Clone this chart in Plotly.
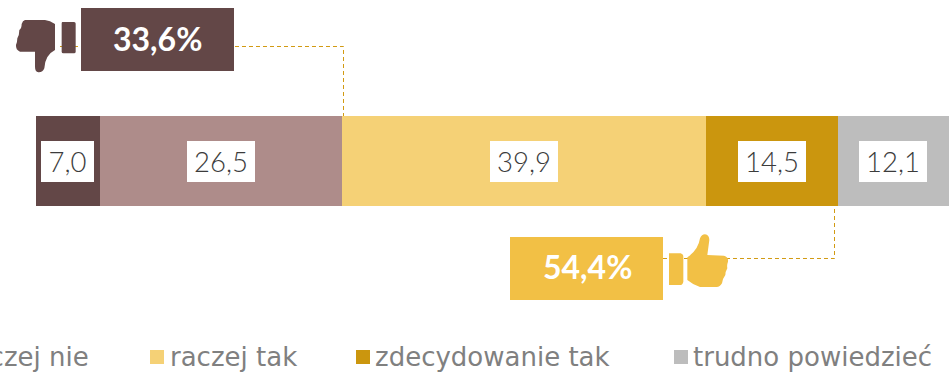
import plotly.graph_objects as go
W, H = 951, 372
categories = ["zdecydowanie nie", "raczej nie", "raczej tak", "zdecydowanie tak", "trudno powiedzieć"]
values = [7.0, 26.5, 39.9, 14.5, 12.1]
labels = ["7,0", "26,5", "39,9", "14,5", "12,1"]
colors = ["#634747", "#AE8C8A", "#F5D176", "#CB960E", "#BDBDBD"]
neg_label, pos_label = "33,6%", "54,4%"
NEG, POS = "#634747", "#F2C045"
LINE = "#D29A12"
K = 9.125
L = 36
def px(x): return x / W
def py(y): return 1 - y / H
fig = go.Figure()
for c, v, col in zip(categories, values, colors):
    fig.add_trace(go.Bar(y=[0], x=[v], name=c, orientation="h", width=1, marker=dict(color=col, line_width=0), showlegend=False, hoverinfo="skip"))
ann = []
shapes = []
cum = 0
for v, t in zip(values, labels):
    w = 53 if len(t) == 3 else 68
    ann.append(dict(x=cum + v / 2, y=0.0, xref="x", yref="y", text=t, showarrow=False, width=w, height=41, bgcolor="white", borderpad=0, borderwidth=0,
                    font=dict(family="Lato", size=27.5, color="#3C3C3C", weight=300), align="center", valign="middle"))
    cum += v
def rect(x0, y0, x1, y1, c, layer="above"):
    shapes.append(dict(type="rect", xref="paper", yref="paper", x0=px(x0), x1=px(x1), y0=py(y1), y1=py(y0), fillcolor=c, line_width=0, layer=layer))
def poly(cmds, c, sx, sy, ox, oy):
    out = []
    for tok in cmds.split():
        if "," in tok:
            a, b = tok.split(",")
            out.append(f"{px(ox + float(a) / sx):.5f},{py(oy + float(b) / sy):.5f}")
        else:
            out.append(tok)
    shapes.append(dict(type="path", xref="paper", yref="paper", path=" ".join(out), fillcolor=c, line_width=0, layer="above"))
def dash(pts):
    d = "M " + " L ".join(f"{px(x):.5f},{py(y):.5f}" for x, y in pts)
    shapes.append(dict(type="path", xref="paper", yref="paper", path=d, line=dict(color=LINE, width=1, dash="4px,3px"), layer="above"))
dash([(60, 46.5), (343.5, 46.5), (343.5, 116)])
dash([(663, 258.5), (834.5, 258.5), (834.5, 206)])
rect(81, 8, 234, 71, NEG)
rect(510, 237, 663, 300, POS)
# icons
poly("M 187,66 L 222,66 Q 227,66 227,71 L 227,155 Q 227,160 222,160 L 190,160 Q 185,160 185,155 L 185,71 Q 185,66 187,66 Z", NEG, 3, 3, 0, 0)
poly("M 75,60 L 135,60 Q 150,62 165,72 L 165,150 Q 135,165 133,205 Q 128,218 115,217 Q 105,215 105,200 L 105,155 L 60,155 Q 47,150 48,135 Q 52,125 52,115 Q 58,105 58,90 Q 65,85 65,72 Q 68,62 75,60 Z", NEG, 3, 3, 0, 0)
poly("M 507,160 L 542,160 Q 550,162 550,170 L 550,245 Q 548,255 540,255 L 507,255 Z", POS, 3, 3, 500, 200)
poly("M 562,172 Q 595,150 600,115 Q 605,103 615,103 Q 628,105 628,120 L 622,165 L 672,167 Q 686,170 684,185 Q 680,195 682,205 Q 676,215 676,225 Q 668,235 666,250 Q 660,261 650,261 L 600,261 Q 580,255 562,240 Z", POS, 3, 3, 500, 200)
for t, x, y in [(neg_label, 157.5, 38.5), (pos_label, 587, 266.5)]:
    ann.append(dict(x=px(x), y=py(y), xref="paper", yref="paper", xanchor="center", yanchor="middle", text=t, showarrow=False, font=dict(family="Lato", size=32, color="white", weight="bold")))
# legend
for c, col, sx, tx in [(categories[1], colors[1], -55, -39), (categories[2], colors[2], 150, 168), (categories[3], colors[3], 356, 373), (categories[4], colors[4], 674, 691)]:
    rect(sx, 350, sx + 14, 364, col)
    ann.append(dict(x=px(tx), y=py(357), xref="paper", yref="paper", xanchor="left", yanchor="middle", text=c, showarrow=False, font=dict(family="DejaVu Sans", size=26, color="#808080")))
fig.update_layout(barmode="stack", width=W, height=H, margin=dict(l=0, r=0, t=0, b=0), paper_bgcolor="white", plot_bgcolor="white",
    xaxis=dict(range=[-L / K, (W - L) / K], visible=False, fixedrange=True),
    yaxis=dict(range=[-(H - 161) / 90, 161 / 90], visible=False, fixedrange=True),
    annotations=ann, shapes=shapes, showlegend=False)
fig.write_html("out.html", config=dict(displayModeBar=False), post_script="document.body.style.margin='0';document.body.style.overflow='hidden';")
